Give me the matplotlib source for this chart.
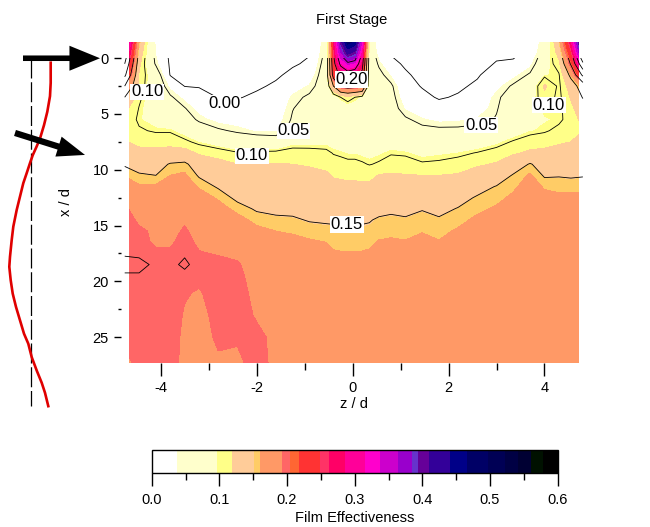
import numpy as np
import matplotlib.pyplot as plt
from matplotlib.colors import ListedColormap, BoundaryNorm
from matplotlib.cm import ScalarMappable
from matplotlib.ticker import MultipleLocator

plt.rcParams['font.family'] = ['Liberation Sans', 'DejaVu Sans']
plt.rcParams['font.size'] = 10.5
plt.rcParams['axes.unicode_minus'] = False

# grid of the film effectiveness map
z_d = [-4.75, -4.45, -4.1, -3.8, -3.5, -3.2, -2.8, -2.4, -2.0, -1.6, -1.25, -0.9,
       -0.55, -0.4, -0.25, -0.1, 0.05, 0.2, 0.35, 0.55, 0.8, 1.1, 1.45, 1.8,
       2.2, 2.6, 3.0, 3.35, 3.7, 4.0, 4.3, 4.55, 4.8]
x_d = [-1.5, -0.5, 0.5, 1.5, 2.5, 3.5, 4.5, 5.5, 6.5, 7.5, 8.5, 9.5, 10.5,
       11.5, 12.5, 13.5, 14.5, 15.5, 16.5, 17.5, 18.5, 19.5, 21, 23, 25, 27.5]

# one list per z/d column, top (x/d=-1.5) to bottom (x/d=27.5)
eff_cols = [
    [0.38, 0.34, 0.30, 0.26, 0.20, 0.15, 0.125, 0.112, 0.11, 0.12, 0.135, 0.148, 0.158, 0.175, 0.193, 0.196, 0.197, 0.197, 0.198, 0.199, 0.203, 0.199, 0.197, 0.196, 0.194, 0.188],
    [0.16, 0.14, 0.125, 0.115, 0.11, 0.104, 0.099, 0.097, 0.102, 0.112, 0.125, 0.142, 0.152, 0.162, 0.172, 0.18, 0.19, 0.194, 0.196, 0.198, 0.203, 0.199, 0.197, 0.196, 0.196, 0.195],
    [0.03, 0.035, 0.045, 0.075, 0.08, 0.08, 0.085, 0.09, 0.098, 0.11, 0.125, 0.14, 0.15, 0.162, 0.172, 0.18, 0.186, 0.19, 0.19, 0.194, 0.198, 0.197, 0.197, 0.197, 0.196, 0.196],
    [-0.01, -0.008, -0.005, -0.002, 0.03, 0.055, 0.065, 0.078, 0.098, 0.11, 0.128, 0.152, 0.16, 0.166, 0.172, 0.178, 0.183, 0.187, 0.19, 0.194, 0.198, 0.197, 0.197, 0.197, 0.196, 0.196],
    [-0.015, -0.012, -0.008, -0.003, -0.001, 0.03, 0.052, 0.066, 0.088, 0.104, 0.128, 0.155, 0.162, 0.17, 0.178, 0.185, 0.19, 0.194, 0.197, 0.199, 0.2015, 0.198, 0.193, 0.191, 0.19, 0.189],
    [-0.02, -0.018, -0.014, -0.008, -0.002, 0.012, 0.028, 0.045, 0.07, 0.095, 0.115, 0.135, 0.148, 0.158, 0.168, 0.176, 0.182, 0.186, 0.189, 0.193, 0.197, 0.195, 0.191, 0.188, 0.187, 0.186],
    [-0.025, -0.024, -0.02, -0.015, -0.008, -0.001, 0.012, 0.03, 0.055, 0.085, 0.11, 0.125, 0.138, 0.148, 0.158, 0.166, 0.174, 0.18, 0.186, 0.191, 0.196, 0.197, 0.197, 0.196, 0.194, 0.19],
    [-0.028, -0.027, -0.024, -0.018, -0.01, -0.002, 0.01, 0.025, 0.045, 0.075, 0.102, 0.118, 0.128, 0.137, 0.146, 0.156, 0.165, 0.173, 0.18, 0.188, 0.194, 0.196, 0.197, 0.196, 0.193, 0.19],
    [-0.025, -0.022, -0.018, -0.012, -0.004, 0.005, 0.015, 0.025, 0.035, 0.075, 0.104, 0.118, 0.126, 0.133, 0.14, 0.148, 0.156, 0.164, 0.172, 0.178, 0.182, 0.185, 0.188, 0.191, 0.194, 0.195],
    [-0.02, -0.015, -0.01, -0.004, 0.004, 0.012, 0.02, 0.027, 0.034, 0.07, 0.106, 0.119, 0.127, 0.134, 0.14, 0.146, 0.153, 0.16, 0.168, 0.175, 0.18, 0.183, 0.186, 0.188, 0.19, 0.19],
    [-0.012, -0.007, -0.003, 0.006, 0.025, 0.042, 0.049, 0.053, 0.062, 0.09, 0.108, 0.118, 0.126, 0.133, 0.14, 0.146, 0.152, 0.158, 0.165, 0.172, 0.177, 0.18, 0.183, 0.185, 0.186, 0.186],
    [-0.006, -0.002, 0.004, 0.02, 0.04, 0.055, 0.062, 0.068, 0.075, 0.092, 0.106, 0.116, 0.124, 0.131, 0.138, 0.144, 0.149, 0.155, 0.162, 0.17, 0.175, 0.178, 0.181, 0.183, 0.184, 0.185],
    [0.055, 0.06, 0.07, 0.075, 0.07, 0.068, 0.07, 0.074, 0.08, 0.092, 0.104, 0.113, 0.121, 0.128, 0.135, 0.142, 0.148, 0.154, 0.16, 0.167, 0.173, 0.177, 0.18, 0.182, 0.184, 0.185],
    [0.26, 0.25, 0.235, 0.22, 0.15, 0.08, 0.075, 0.075, 0.08, 0.09, 0.099, 0.107, 0.116, 0.124, 0.131, 0.138, 0.148, 0.153, 0.156, 0.162, 0.168, 0.174, 0.179, 0.182, 0.184, 0.185],
    [0.40, 0.36, 0.31, 0.26, 0.21, 0.10, 0.08, 0.076, 0.08, 0.088, 0.097, 0.106, 0.115, 0.123, 0.131, 0.138, 0.148, 0.153, 0.156, 0.161, 0.167, 0.173, 0.178, 0.182, 0.184, 0.185],
    [0.48, 0.42, 0.34, 0.28, 0.22, 0.11, 0.085, 0.078, 0.08, 0.087, 0.095, 0.104, 0.114, 0.122, 0.13, 0.138, 0.148, 0.153, 0.156, 0.161, 0.167, 0.173, 0.178, 0.182, 0.184, 0.185],
    [0.46, 0.40, 0.33, 0.27, 0.215, 0.10, 0.085, 0.078, 0.08, 0.087, 0.095, 0.104, 0.114, 0.122, 0.13, 0.138, 0.148, 0.153, 0.156, 0.161, 0.167, 0.173, 0.178, 0.182, 0.184, 0.185],
    [0.33, 0.30, 0.27, 0.235, 0.205, 0.09, 0.08, 0.076, 0.079, 0.085, 0.093, 0.102, 0.113, 0.122, 0.13, 0.138, 0.148, 0.153, 0.156, 0.161, 0.167, 0.173, 0.178, 0.182, 0.184, 0.185],
    [0.09, 0.085, 0.08, 0.078, 0.075, 0.07, 0.075, 0.076, 0.078, 0.084, 0.092, 0.099, 0.112, 0.122, 0.131, 0.139, 0.149, 0.153, 0.157, 0.162, 0.168, 0.174, 0.179, 0.182, 0.184, 0.185],
    [0.003, 0.02, 0.045, 0.06, 0.065, 0.068, 0.07, 0.074, 0.08, 0.088, 0.094, 0.102, 0.119, 0.127, 0.138, 0.145, 0.152, 0.156, 0.161, 0.168, 0.174, 0.177, 0.18, 0.183, 0.184, 0.185],
    [-0.01, -0.003, 0.008, 0.035, 0.056, 0.062, 0.066, 0.07, 0.078, 0.09, 0.098, 0.11, 0.12, 0.129, 0.139, 0.147, 0.153, 0.157, 0.162, 0.169, 0.175, 0.178, 0.181, 0.183, 0.184, 0.185],
    [-0.018, -0.012, -0.004, 0.004, 0.012, 0.022, 0.035, 0.055, 0.068, 0.085, 0.097, 0.108, 0.119, 0.128, 0.137, 0.145, 0.152, 0.156, 0.161, 0.168, 0.174, 0.178, 0.18, 0.183, 0.184, 0.185],
    [-0.025, -0.022, -0.016, -0.008, -0.002, 0.008, 0.022, 0.04, 0.06, 0.078, 0.092, 0.102, 0.118, 0.13, 0.14, 0.149, 0.155, 0.159, 0.165, 0.171, 0.176, 0.179, 0.181, 0.183, 0.184, 0.185],
    [-0.028, -0.026, -0.022, -0.016, -0.01, -0.003, 0.012, 0.032, 0.058, 0.078, 0.094, 0.103, 0.118, 0.128, 0.137, 0.145, 0.152, 0.156, 0.161, 0.168, 0.174, 0.178, 0.18, 0.183, 0.184, 0.185],
    [-0.028, -0.025, -0.02, -0.012, -0.005, 0.003, 0.016, 0.034, 0.058, 0.08, 0.096, 0.107, 0.12, 0.132, 0.143, 0.151, 0.156, 0.162, 0.169, 0.174, 0.178, 0.18, 0.182, 0.183, 0.184, 0.185],
    [-0.022, -0.018, -0.01, -0.003, 0.005, 0.014, 0.025, 0.04, 0.062, 0.085, 0.101, 0.115, 0.128, 0.142, 0.152, 0.157, 0.163, 0.17, 0.175, 0.178, 0.18, 0.182, 0.183, 0.184, 0.185, 0.185],
    [-0.012, -0.006, 0.002, 0.015, 0.03, 0.045, 0.048, 0.052, 0.068, 0.092, 0.108, 0.12, 0.135, 0.151, 0.156, 0.162, 0.168, 0.173, 0.177, 0.179, 0.181, 0.182, 0.183, 0.184, 0.185, 0.185],
    [-0.01, -0.004, 0.003, 0.03, 0.055, 0.065, 0.07, 0.075, 0.085, 0.102, 0.115, 0.135, 0.152, 0.157, 0.163, 0.169, 0.174, 0.177, 0.179, 0.18, 0.181, 0.182, 0.183, 0.184, 0.185, 0.185],
    [-0.005, 0.005, 0.03, 0.055, 0.075, 0.085, 0.088, 0.088, 0.095, 0.108, 0.122, 0.152, 0.162, 0.168, 0.173, 0.176, 0.178, 0.18, 0.181, 0.182, 0.182, 0.183, 0.183, 0.184, 0.185, 0.185],
    [0.06, 0.07, 0.085, 0.095, 0.122, 0.112, 0.098, 0.095, 0.098, 0.11, 0.124, 0.138, 0.148, 0.158, 0.165, 0.172, 0.176, 0.178, 0.18, 0.181, 0.182, 0.183, 0.183, 0.184, 0.185, 0.185],
    [0.15, 0.13, 0.11, 0.098, 0.096, 0.095, 0.095, 0.097, 0.104, 0.115, 0.127, 0.138, 0.149, 0.156, 0.163, 0.17, 0.175, 0.178, 0.18, 0.181, 0.182, 0.183, 0.183, 0.184, 0.185, 0.185],
    [0.28, 0.24, 0.205, 0.16, 0.13, 0.12, 0.112, 0.106, 0.108, 0.118, 0.128, 0.138, 0.148, 0.156, 0.163, 0.17, 0.175, 0.178, 0.18, 0.181, 0.182, 0.183, 0.183, 0.184, 0.185, 0.185],
    [0.47, 0.42, 0.34, 0.26, 0.17, 0.152, 0.135, 0.125, 0.118, 0.122, 0.13, 0.14, 0.149, 0.156, 0.163, 0.17, 0.175, 0.178, 0.18, 0.181, 0.182, 0.183, 0.183, 0.184, 0.185, 0.185],
]
eff = np.array(eff_cols).T

# colour table of the scale bar
cbar_bounds = [0, 0.038, 0.096, 0.118, 0.151, 0.16, 0.192, 0.205, 0.217, 0.248, 0.262,
               0.285, 0.315, 0.337, 0.364, 0.384, 0.394, 0.41, 0.441, 0.466, 0.497,
               0.522, 0.542, 0.561, 0.578, 0.6]
cbar_colors = ['#FFFFFF', '#FFFFCC', '#FFFF88', '#FFCC99', '#FFCC66', '#FF9966', '#FF6666',
               '#FF6633', '#FF3333', '#FF3366', '#FF0066', '#FF0099', '#FF00CC', '#CC00CC',
               '#9900CC', '#6633CC', '#660099', '#330099', '#000088', '#000066', '#000055',
               '#000044', '#000033', '#001100', '#000000']
cbar_ticks = [0.0, 0.1, 0.2, 0.3, 0.4, 0.5, 0.6]

line_levels = [0.0, 0.05, 0.10, 0.15, 0.20, 0.25, 0.30, 0.35, 0.40, 0.45]
# contour labels: which line to pick, and where the boxed label sits
label_pick = [(-4.3, 2.8), (-2.6, 3.6), (-1.2, 6.6), (0.0, 2.6), (2.7, 6.0),
              (4.1, 4.2), (-2.1, 8.5), (-0.1, 15.0)]
label_at = [(-4.28, 3.0), (-2.68, 4.05), (-1.23, 6.5), (-0.02, 1.9), (2.68, 6.0),
            (4.09, 4.2), (-2.1, 8.75), (-0.12, 14.9)]

# blowing ratio profile drawn at the left (offset from dashed reference, px)
prof_xd = [0.4, 2.2, 3.4, 4.8, 6.0, 7.2, 7.9, 8.7, 9.4, 10.3, 11.2, 12.4, 13.6, 15.1,
           16.3, 17.8, 18.7, 19.9, 21.1, 22.3, 23.5, 24.7, 25.6, 26.8, 28.0, 29.1, 30.0, 31.2]
prof_u = [20, 20, 19.3, 16.6, 13.3, 9.3, 6, 2, -0.7, -4, -7.4, -10.7, -14, -17.4,
          -19, -20.7, -21.4, -20, -18, -14.7, -10.7, -6.7, -2.4, 1, 6, 11, 14.3, 17.6]

fig = plt.figure(figsize=(6.5, 5.27), dpi=100)
ax = fig.add_axes([0.1985, 0.3118, 0.6923, 0.608])

ax.contourf(z_d, x_d, eff, levels=[-0.5] + cbar_bounds[1:], colors=cbar_colors)
cs = ax.contour(z_d, x_d, eff, levels=line_levels, colors='k', linewidths=0.6)
cs.set_clip_path(plt.Rectangle((-5, 0), 10, 30, transform=ax.transData))
labels = ax.clabel(cs, fmt='%.2f', inline=False, fontsize=12, manual=label_pick)
for t, xy in zip(labels, label_at):
    t.set_rotation(0)
    t.set_position(xy)
    t.set_bbox(dict(facecolor='white', edgecolor='none', pad=0.5))

ax.set_xlim(-4.66, 4.72)
ax.set_ylim(27.3, -1.43)
ax.xaxis.set_major_locator(MultipleLocator(2))
ax.xaxis.set_minor_locator(MultipleLocator(1))
ax.yaxis.set_major_locator(MultipleLocator(5))
ax.yaxis.set_minor_locator(MultipleLocator(2.5))
for s in ax.spines.values():
    s.set_color('none')
ax.spines['left'].set_position(('outward', 6))
ax.tick_params(axis='x', which='major', length=9.4, width=1)
ax.tick_params(axis='x', which='minor', length=5, width=1)
ax.tick_params(axis='y', which='major', length=5, width=1)
ax.tick_params(axis='y', which='minor', length=2.5, width=1)
ax.set_xlabel('z / d', labelpad=2)
ax.set_ylabel('x / d', labelpad=14)

fig.text(352 / 650, 1 - 20 / 527, 'First Stage', ha='center', va='center')

# colour scale
cax = fig.add_axes([0.2334, 0.1019, 0.6246, 0.0442])
norm = BoundaryNorm(cbar_bounds, len(cbar_colors))
sm = ScalarMappable(norm=norm, cmap=ListedColormap(cbar_colors))
cb = fig.colorbar(sm, cax=cax, orientation='horizontal', spacing='proportional')
cb.set_ticks(cbar_ticks)
cb.ax.set_xticklabels(['%.1f' % v for v in cbar_ticks])
cb.ax.set_xticks(np.arange(0.05, 0.6, 0.1), minor=True)
cb.ax.tick_params(which='major', length=9.4, width=1, pad=4.5)
cb.ax.tick_params(which='minor', length=5, width=1)
cb.outline.set_linewidth(1)
cb.set_label('Film Effectiveness', labelpad=3)

# profile sketch at the left
axp = fig.add_axes([0, 1 - 420 / 527, 130 / 650, (420 - 42.3) / 527])
axp.set_xlim(-30.7, 99.3)
axp.set_ylim(32.44, -1.43)
axp.axis('off')
axp.plot([0, 0], [0, 31.2], color='k', lw=0.9, dashes=(16, 3))
axp.plot(prof_u, prof_xd, color='#E00000', lw=1.9)
axp.annotate('', xy=(69.3, 0), xytext=(-7.7, 0),
             arrowprops=dict(arrowstyle='simple,head_length=2.2,head_width=1.8,tail_width=0.4',
                             color='k', lw=0, mutation_scale=10, shrinkA=0, shrinkB=0))
axp.annotate('', xy=(54.3, 8.67), xytext=(-15.7, 6.7),
             arrowprops=dict(arrowstyle='simple,head_length=2.0,head_width=1.5,tail_width=0.45',
                             color='k', lw=0, mutation_scale=10, shrinkA=0, shrinkB=0))

fig.savefig('out.png', dpi=100)
